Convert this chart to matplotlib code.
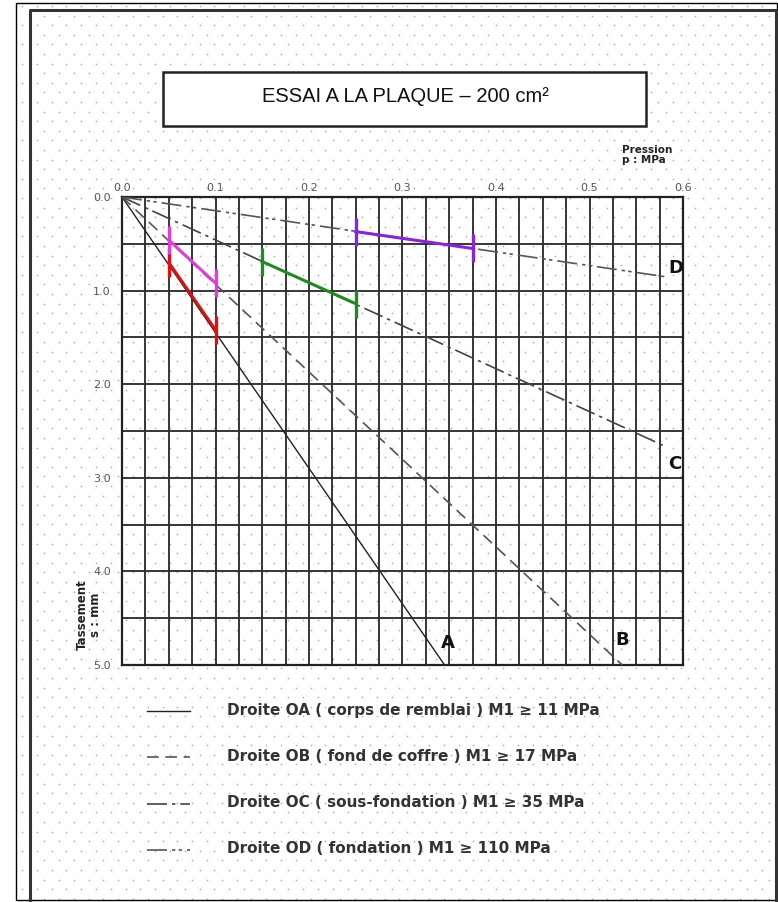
import numpy as np
import matplotlib.pyplot as plt
from matplotlib.patches import Rectangle
from matplotlib.lines import Line2D

# essai a la plaque : tassement s (mm) en fonction de la pression p (MPa)
pression_ticks = [0.0, 0.1, 0.2, 0.3, 0.4, 0.5, 0.6]
tassement_ticks = [0.0, 1.0, 2.0, 3.0, 4.0, 5.0]

# droites OA, OB, OC, OD (partent de l'origine)
droites = ['A', 'B', 'C', 'D']
droite_p_fin = [0.345, 0.535, 0.58, 0.58]
droite_s_fin = [5.0, 5.0, 2.66, 0.85]
droite_textes = ['Droite OA ( corps de remblai ) M1 \u2265 11 MPa',
                 'Droite OB ( fond de coffre ) M1 \u2265 17 MPa',
                 'Droite OC ( sous-fondation ) M1 \u2265 35 MPa',
                 'Droite OD ( fondation ) M1 \u2265 110 MPa']

# segments mesures (1er et 2eme chargement)
seg_p = [[0.05, 0.10], [0.05, 0.10], [0.15, 0.25], [0.25, 0.375]]
seg_s = [[0.70, 1.42], [0.46, 0.92], [0.69, 1.14], [0.37, 0.55]]
seg_couleurs = ['#e01010', '#e03ce0', '#1e8c1e', '#8c22e0']

styles = {'A': dict(color='#222222', lw=1.0, ls='-'),
          'B': dict(color='#555555', lw=1.2, dashes=(7, 4)),
          'C': dict(color='#444444', lw=1.2, dashes=(12, 3, 2, 3)),
          'D': dict(color='#555555', lw=1.2, dashes=(12, 3, 2, 2, 2, 3))}
pos_lettres = {'A': (0.341, 4.76), 'B': (0.528, 4.73), 'C': (0.584, 2.85), 'D': (0.584, 0.76)}

W, H = 778, 902
fig = plt.figure(figsize=(W / 100, H / 100), dpi=100)

# fond : papier pointille, cadres, titre
bg = fig.add_axes([0, 0, 1, 1], zorder=0)
bg.set_xlim(0, W)
bg.set_ylim(H, 0)
bg.axis('off')
gx, gy = [], []
for i, yy in enumerate(np.arange(6, 900, 9.6)):
    off = 7.4 if i % 2 else 0.0
    for xx in np.arange(22 + off, 776, 14.8):
        gx.append(xx)
        gy.append(yy)
bg.scatter(gx, gy, s=1.5, color='#b0b0b0', lw=0, zorder=1)
bg.add_patch(Rectangle((16, 3), 761, 897, fill=False, ec='black', lw=1.0, zorder=3))
bg.plot([30, 30, 776, 776], [902, 9.5, 9.5, 902], color='#333333', lw=2.2, zorder=3)
bg.add_patch(Rectangle((163, 72), 483, 54, fc='white', ec='#222222', lw=1.8, zorder=2))
bg.text(405, 97, 'ESSAI A LA PLAQUE \u2013 200 cm\u00b2', ha='center', va='center',
        fontsize=14.5, family='Liberation Sans', color='#111111', zorder=4)

# legende
for k, (d, txt) in enumerate(zip(droites, droite_textes)):
    y = 711 + k * 46.3
    bg.add_line(Line2D([147, 190], [y, y], zorder=4, **styles[d]))
    bg.text(227, y - 1, txt, ha='left', va='center', fontsize=11, fontweight='bold',
            family='DejaVu Sans', color='#333333', zorder=4)

# diagramme
ax = fig.add_axes([122 / W, 1 - 665 / H, 561 / W, 468 / H], zorder=1)
ax.set_facecolor('none')
ax.set_xlim(0, 0.6)
ax.set_ylim(5.0, 0.0)
ax.xaxis.tick_top()
ax.set_xticks(pression_ticks)
ax.set_xticklabels(['%.1f' % v for v in pression_ticks])
ax.set_xticks(np.arange(0, 0.6001, 0.025), minor=True)
ax.set_yticks(tassement_ticks)
ax.set_yticklabels(['%.1f' % v for v in tassement_ticks])
ax.set_yticks(np.arange(0, 5.001, 0.5), minor=True)
ax.tick_params(which='both', length=0, labelsize=8, labelcolor='#555555')
ax.tick_params(axis='x', pad=3)
ax.tick_params(axis='y', pad=8)
ax.grid(which='both', color='#2e2e2e', lw=1.35)
for sp in ax.spines.values():
    sp.set_color('#222222')
    sp.set_linewidth(1.6)

for d, pf, sf in zip(droites, droite_p_fin, droite_s_fin):
    ax.plot([0, pf], [0, sf], zorder=3, **styles[d])
    lx, ly = pos_lettres[d]
    ax.text(lx, ly, d, fontsize=13, fontweight='bold', ha='left', va='center',
            color='#111111', zorder=4)

for p, s, c in zip(seg_p, seg_s, seg_couleurs):
    ax.plot(p, s, color=c, lw=2.2, marker='|', ms=20, mew=2.4, zorder=5)

fig.text(89 / W, 1 - 615 / H, 'Tassement\ns : mm', rotation=90, ha='center', va='center',
         fontsize=8.5, fontweight='bold', color='#222222', linespacing=1.0)
fig.text(622 / W, 1 - 155 / H, 'Pression\np : MPa', ha='left', va='center',
         fontsize=7.5, fontweight='bold', color='#222222', linespacing=1.1)

fig.savefig('out.png', dpi=100)
